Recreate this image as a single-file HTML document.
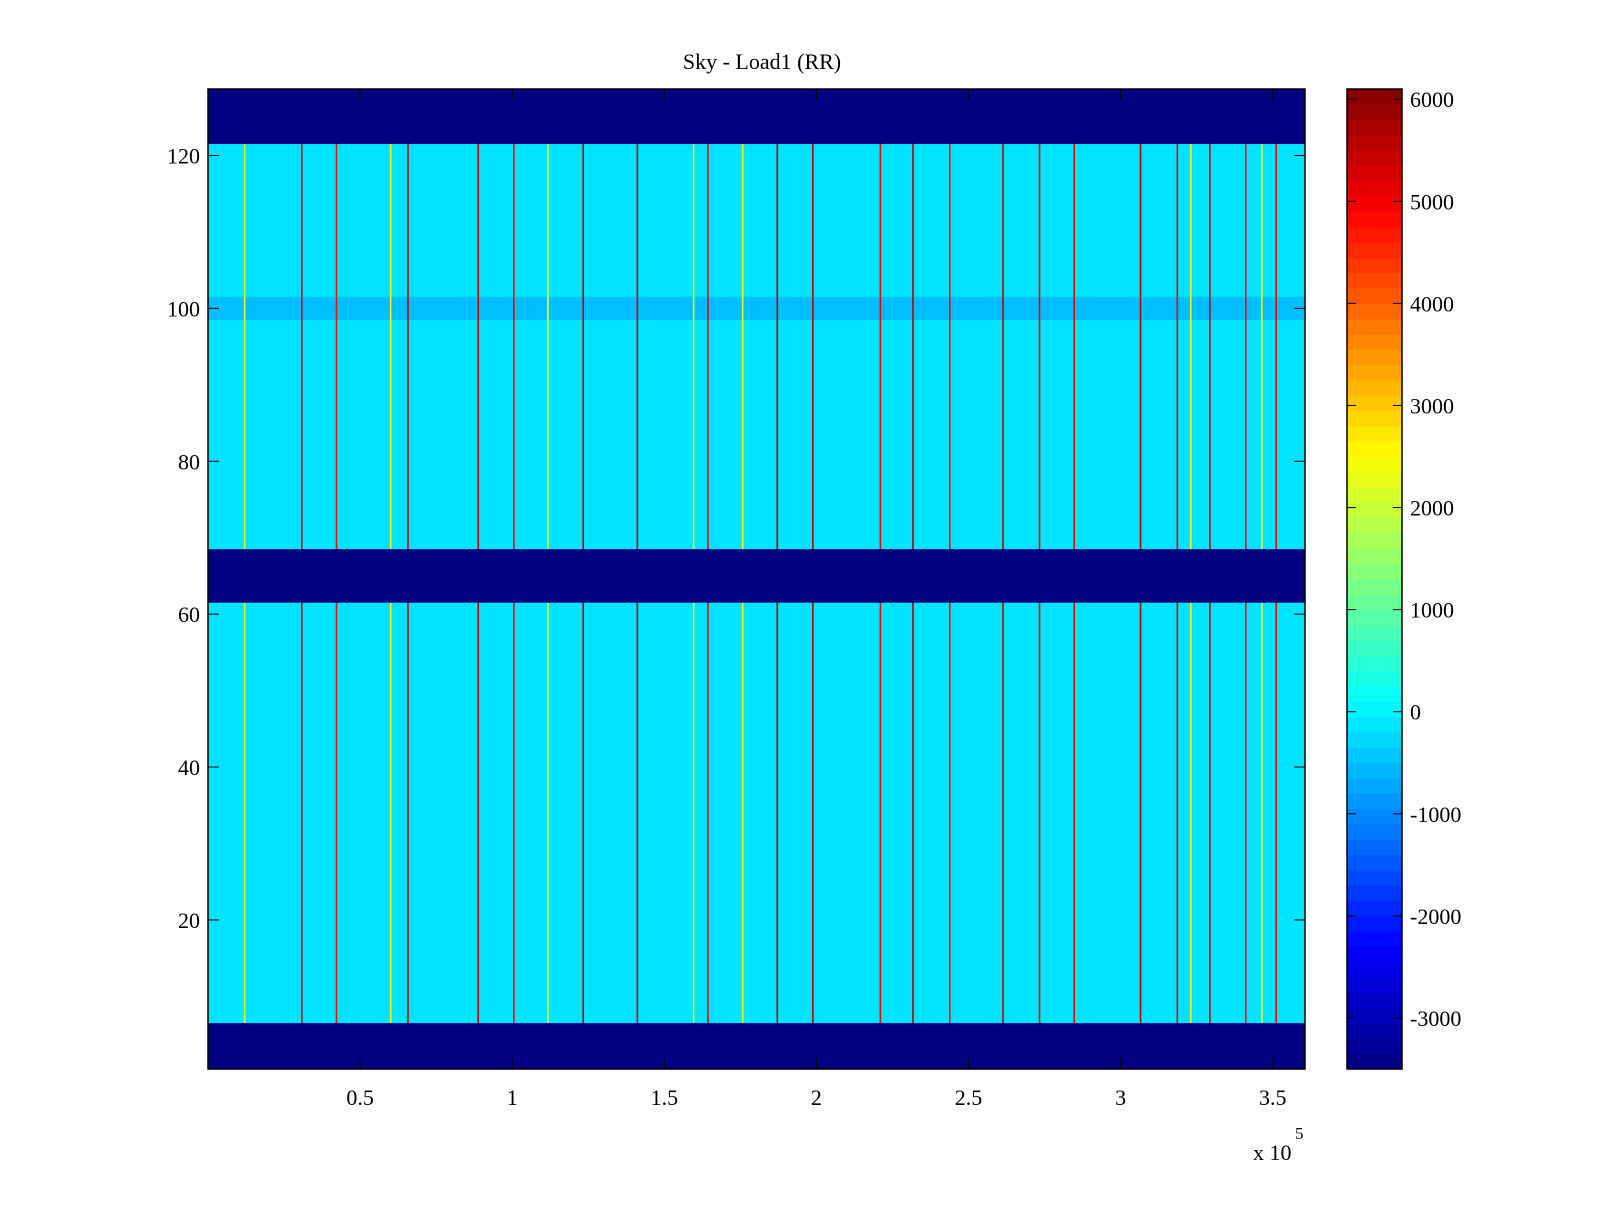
<!DOCTYPE html>
<html><head><meta charset="utf-8"><style>
body{margin:0;background:#fff;width:1600px;height:1200px;overflow:hidden}
svg text{font-family:"Liberation Serif",serif;font-size:22px;fill:#000}
</style></head><body>
<svg id="c" width="1600" height="1200"></svg>
<script>
// data (x in units of 1e5)
const stripeX=[0.309,0.423,0.658,0.889,1.006,1.234,1.412,1.644,1.872,1.989,2.211,2.318,2.439,2.614,2.734,2.848,3.066,3.187,3.294,3.412,3.512,0.121,0.601,1.118,1.597,1.758,3.231,3.465];
const stripeVal=[5500,4800,5400,5500,5000,5500,5200,5000,5500,5500,5000,5500,5000,5500,5000,5000,5500,5000,5500,5000,5000,2300,2600,2300,2300,2400,2400,2600];
const bandRows=[[0.5,6.5],[61.5,68.5],[121.5,128.7]];
const bandVal=-3500;
const baseVal=-150;
const specialRows=[98.5,101.5];
const specialVal=-500;
const xTicks=[0.5,1,1.5,2,2.5,3,3.5];
const yTicks=[20,40,60,80,100,120];
const cTicks=[6000,5000,4000,3000,2000,1000,0,-1000,-2000,-3000];
const cMin=-3500,cMax=6100,xMin=0,xMax=3.606,yMin=0.5,yMax=128.7;
const L=208,R=1305,T=89,B=1069,CL=1347,CR=1402;
const sx=v=>L+(v-xMin)/(xMax-xMin)*(R-L);
const sy=v=>B-(v-yMin)/(yMax-yMin)*(B-T);
const sc=v=>B-(v-cMin)/(cMax-cMin)*(B-T);
function jet(t){t=Math.max(0,Math.min(1,t));const f=x=>Math.round(255*Math.max(0,Math.min(1,1.5-Math.abs(4*t-x))));return `rgb(${f(3)},${f(2)},${f(1)})`;}
const col=v=>jet((v-cMin)/(cMax-cMin));
const svg=document.getElementById('c');const NS='http://www.w3.org/2000/svg';
function el(t,a,p){const e=document.createElementNS(NS,t);for(const k in a)e.setAttribute(k,a[k]);(p||svg).appendChild(e);return e;}
const g=el('g',{});


let r=el('rect',{x:L,y:T,width:R-L,height:B-T,fill:col(baseVal)},g);


r=el('rect',{x:L,y:sy(specialRows[1]),width:R-L,height:sy(specialRows[0])-sy(specialRows[1]),fill:col(specialVal)},g);


stripeX.forEach((x,i)=>{const s=el('rect',{x:sx(x)-1,y:T,width:1.6,height:B-T,fill:col(stripeVal[i])},g);

});
bandRows.forEach(b=>{const s=el('rect',{x:L,y:sy(b[1]),width:R-L,height:sy(b[0])-sy(b[1]),fill:col(bandVal)},g);

});
el('rect',{x:L,y:T,width:R-L,height:B-T,fill:'none',stroke:'#000','stroke-width':1.5});
xTicks.forEach(v=>{const x=sx(v);el('line',{x1:x,x2:x,y1:B,y2:B-11,stroke:'#000'});el('line',{x1:x,x2:x,y1:T,y2:T+11,stroke:'#000'});
const t=el('text',{x:x,y:B+36,'text-anchor':'middle'});t.textContent=v;

});
yTicks.forEach(v=>{const y=sy(v);el('line',{x1:L,x2:L+11,y1:y,y2:y,stroke:'#000'});el('line',{x1:R,x2:R-11,y1:y,y2:y,stroke:'#000'});
const t=el('text',{x:L-8,y:y+8,'text-anchor':'end'});t.textContent=v;

});
// colorbar
const cb=el('g',{});


for(let i=0;i<64;i++){const v0=cMin+(cMax-cMin)*i/64,v1=cMin+(cMax-cMin)*(i+1)/64;
el('rect',{x:CL,y:sc(v1),width:CR-CL,height:sc(v0)-sc(v1)+0.5,fill:jet((i+0.5)/64)},cb);}
el('rect',{x:CL,y:T,width:CR-CL,height:B-T,fill:'none',stroke:'#000','stroke-width':1.5},cb);
cTicks.forEach(v=>{const y=sc(v);el('line',{x1:CL,x2:CL+9,y1:y,y2:y,stroke:'#000'},cb);el('line',{x1:CR,x2:CR-9,y1:y,y2:y,stroke:'#000'},cb);
const t=el('text',{x:CR+8,y:y+8},cb);t.textContent=v;

});
let t=el('text',{x:762,y:69,'text-anchor':'middle'});t.textContent='Sky - Load1 (RR)';


t=el('text',{x:1253,y:1160});t.textContent='x 10';


t=el('text',{x:1295,y:1139,style:'font-size:17px'});t.textContent='5';


</script>
</body></html>
